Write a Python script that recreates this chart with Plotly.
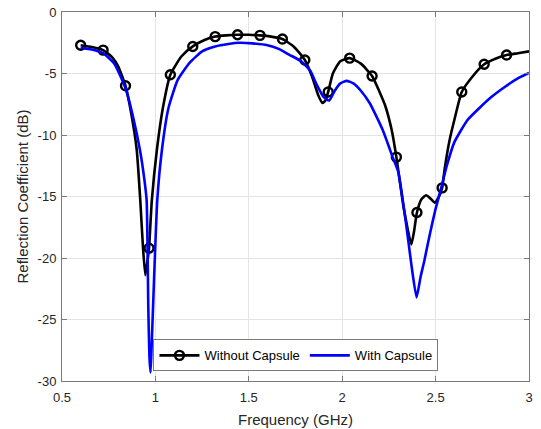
import plotly.graph_objects as go

# Without Capsule (black) curve
freq_wo = [0.60, 0.66, 0.72, 0.77, 0.80, 0.84, 0.87, 0.90, 0.919, 0.933, 0.946, 0.956, 0.966, 0.975, 0.981,
           1.008, 1.04, 1.08, 1.14, 1.20, 1.26, 1.32, 1.38, 1.44, 1.50, 1.56, 1.62, 1.68, 1.74, 1.80,
           1.84, 1.87, 1.895, 1.91, 1.925, 1.95, 1.99, 2.04, 2.10, 2.16, 2.20, 2.23, 2.265, 2.29,
           2.33, 2.37, 2.385, 2.40, 2.425, 2.45, 2.475, 2.495, 2.515, 2.535, 2.548, 2.575, 2.60,
           2.64, 2.70, 2.76, 2.82, 2.88, 2.94, 3.00]
db_wo = [-2.7, -2.85, -3.1, -3.7, -4.4, -6.0, -8.2, -11.2, -15.3, -19.0, -21.4, -20.4, -19.2, -16.8, -15.3,
         -11.2, -7.8, -5.1, -3.6, -2.8, -2.3, -2.0, -1.9, -1.85, -1.85, -1.9, -2.0, -2.2, -2.8, -3.9,
         -5.3, -6.7, -7.4, -7.2, -6.5, -5.0, -4.0, -3.75, -4.2, -5.2, -6.5, -7.6, -9.6, -11.8,
         -16.0, -18.9, -17.8, -16.3, -15.2, -14.9, -15.2, -15.5, -15.1, -14.3, -12.8, -10.4, -8.8,
         -6.5, -5.2, -4.25, -3.8, -3.5, -3.35, -3.2]

# Marker positions on the black curve
freq_mk = [0.60, 0.72, 0.84, 0.966, 1.08, 1.20, 1.32, 1.44, 1.56, 1.68, 1.80, 1.925, 2.04, 2.16,
           2.29, 2.40, 2.535, 2.64, 2.76, 2.88]
db_mk = [-2.7, -3.1, -6.0, -19.2, -5.1, -2.8, -2.0, -1.85, -1.9, -2.2, -3.9, -6.5, -3.75, -5.2,
         -11.8, -16.3, -14.3, -6.5, -4.25, -3.5]

# With Capsule (blue) curve
freq_w = [0.60, 0.66, 0.72, 0.78, 0.84, 0.88, 0.917, 0.94, 0.953, 0.962, 0.968, 0.974, 0.979, 0.985,
          1.010, 1.035, 1.07, 1.12, 1.185, 1.25, 1.32, 1.39, 1.45, 1.52, 1.60, 1.66, 1.72, 1.78,
          1.83, 1.86, 1.90, 1.93, 1.96, 1.99, 2.024, 2.06, 2.10, 2.147, 2.217, 2.27, 2.30, 2.34,
          2.37, 2.398, 2.42, 2.44, 2.47, 2.50, 2.53, 2.56, 2.60, 2.67, 2.735, 2.80, 2.87, 2.94, 3.00]
db_w = [-2.9, -3.05, -3.35, -4.2, -6.2, -8.5, -11.2, -13.5, -15.3, -24.0, -28.0, -29.3, -27.5, -25.0,
        -15.3, -11.2, -7.8, -5.5, -4.1, -3.2, -2.8, -2.6, -2.5, -2.55, -2.7, -3.0, -3.5, -4.0,
        -4.8, -5.8, -6.9, -7.2, -6.4, -5.8, -5.6, -5.8, -6.4, -7.4, -9.6, -11.8, -13.0, -17.0,
        -20.5, -23.2, -21.5, -20.2, -18.0, -16.0, -14.3, -12.5, -10.6, -8.8, -7.8, -6.9, -6.1, -5.4, -4.95]

x_ticks = [0.5, 1, 1.5, 2, 2.5, 3]
x_ticktext = ["0.5", "1", "1.5", "2", "2.5", "3"]
y_ticks = [0, -5, -10, -15, -20, -25, -30]
y_ticktext = ["0", "-5", "-10", "-15", "-20", "-25", "-30"]

FONT = "Arial, Liberation Sans, Helvetica, sans-serif"
TXT = "#262626"

fig = go.Figure()
fig.add_trace(go.Scatter(x=freq_wo, y=db_wo, mode="lines", line=dict(color="black", width=2.6, shape="spline", smoothing=0.5),
                         showlegend=False, hoverinfo="skip"))
fig.add_trace(go.Scatter(x=freq_mk, y=db_mk, mode="markers",
                         marker=dict(symbol="circle-open", size=9, color="black", line=dict(width=2.4, color="black")),
                         showlegend=False))
fig.add_trace(go.Scatter(x=freq_w, y=db_w, mode="lines", line=dict(color="#0000ff", width=2.6, shape="spline", smoothing=0.5),
                         name="With Capsule", showlegend=False))
# legend entries
fig.add_trace(go.Scatter(x=[None], y=[None], mode="lines+markers", name="Without Capsule",
                         line=dict(color="black", width=2.6),
                         marker=dict(symbol="circle-open", size=9, color="black", line=dict(width=2.4, color="black"))))
fig.add_trace(go.Scatter(x=[None], y=[None], mode="lines", name="With Capsule",
                         line=dict(color="#0000ff", width=2.6)))

axis_common = dict(showline=True, linecolor="#7a7a7a", linewidth=1, mirror="ticks", ticks="inside", ticklen=5,
                   tickcolor="#7a7a7a", showgrid=True, gridcolor="#e4e4e4", gridwidth=1, zeroline=False,
                   automargin=False, tickfont=dict(family=FONT, size=13, color=TXT))

fig.update_xaxes(range=[0.5, 3], tickvals=x_ticks, ticktext=x_ticktext, ticklabelstandoff=4,
                 title=dict(text="Frequency (GHz)", font=dict(family=FONT, size=15, color=TXT), standoff=10),
                 **axis_common)
fig.update_yaxes(range=[-30, 0], tickvals=y_ticks, ticktext=y_ticktext, ticklabelstandoff=2,
                 title=dict(text="Reflection Coefficient (dB)", font=dict(family=FONT, size=15, color=TXT), standoff=5),
                 **axis_common)

fig.update_layout(
    width=541, height=429,
    margin=dict(l=62, r=12, t=12, b=48),
    paper_bgcolor="white", plot_bgcolor="white",
    font=dict(family=FONT, color=TXT),
    legend=dict(orientation="h", x=0.501, y=0.026, xanchor="center", yanchor="bottom",
                bgcolor="white", bordercolor="#7a7a7a", borderwidth=1,
                font=dict(family=FONT, size=13, color="black"), itemwidth=40,
                tracegroupgap=0),
)

fig.write_html("out.html")
